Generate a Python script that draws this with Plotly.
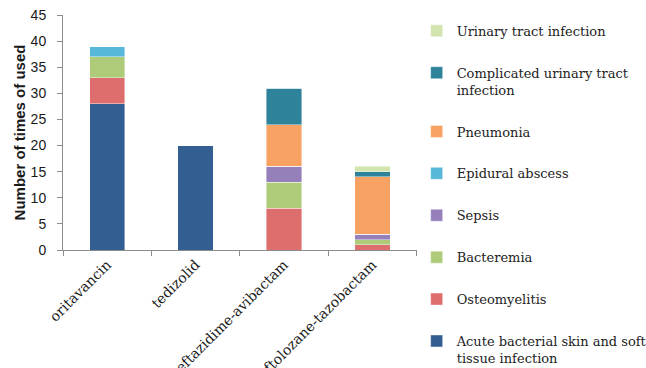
import plotly.graph_objects as go

# Antibiotics on the x axis
drugs = ["oritavancin", "tedizolid", "ceftazidime-avibactam", "ceftolozane-tazobactam"]

# Number of uses per indication, one list per indication (order follows `drugs`)
abssi = [28, 20, 0, 0]
osteomyelitis = [5, 0, 8, 1]
bacteremia = [4, 0, 5, 1]
sepsis = [0, 0, 3, 1]
epidural_abscess = [2, 0, 0, 0]
pneumonia = [0, 0, 8, 11]
complicated_uti = [0, 0, 7, 1]
uti = [0, 0, 0, 1]

# Stack order (bottom to top): name, values, fill colour
series = [
    ("Acute bacterial skin and soft<br>tissue infection", abssi, "#335E92"),
    ("Osteomyelitis", osteomyelitis, "#DD6E6D"),
    ("Bacteremia", bacteremia, "#AECB79"),
    ("Sepsis", sepsis, "#9580BA"),
    ("Epidural abscess", epidural_abscess, "#58B8DA"),
    ("Pneumonia", pneumonia, "#F7A163"),
    ("Complicated urinary tract<br>infection", complicated_uti, "#2E8299"),
    ("Urinary tract infection", uti, "#D3E5AE"),
]

fig = go.Figure()
n = len(series)
for i, (name, vals, color) in enumerate(series):
    fig.add_trace(go.Bar(
        x=drugs,
        y=vals,
        name=name,
        legendgroup=f"g{i}",
        legendrank=n - i,  # top of the stack listed first
        marker=dict(color=color, line=dict(color="rgba(255,255,255,0.7)", width=0.6)),
    ))

axis_grey = "#8C8C8C"

fig.update_layout(
    barmode="stack",
    bargap=0.6,
    width=646,
    height=368,
    margin=dict(l=63, r=223, t=15, b=118),
    paper_bgcolor="white",
    plot_bgcolor="white",
    showlegend=True,
    legend=dict(
        traceorder="grouped",
        tracegroupgap=22,
        valign="top",
        xref="container",
        yref="container",
        x=0.645,
        y=0.957,
        xanchor="left",
        yanchor="top",
        maxheight=600,
        font=dict(family="DejaVu Serif", size=13, color="#222222"),
        itemwidth=30,
        bgcolor="rgba(0,0,0,0)",
    ),
    xaxis=dict(
        automargin=False,
        showline=True,
        linecolor=axis_grey,
        linewidth=1,
        ticks="outside",
        tickson="boundaries",
        ticklen=5,
        tickcolor=axis_grey,
        tickangle=-45,
        tickfont=dict(family="DejaVu Serif", size=14, color="#1A1A1A"),
        showgrid=False,
    ),
    yaxis=dict(
        automargin=False,
        range=[0, 45],
        dtick=5,
        showline=True,
        linecolor=axis_grey,
        linewidth=1,
        ticks="outside",
        ticklen=5,
        tickcolor=axis_grey,
        ticklabelstandoff=8,
        tickfont=dict(family="Liberation Sans", size=14, color="#1A1A1A"),
        showgrid=False,
        zeroline=False,
        title=dict(
            text="<b>Number of times of used</b>",
            font=dict(family="Liberation Sans", size=15, color="#1A1A1A"),
            standoff=1,
        ),
    ),
)

fig.write_html("out.html")
